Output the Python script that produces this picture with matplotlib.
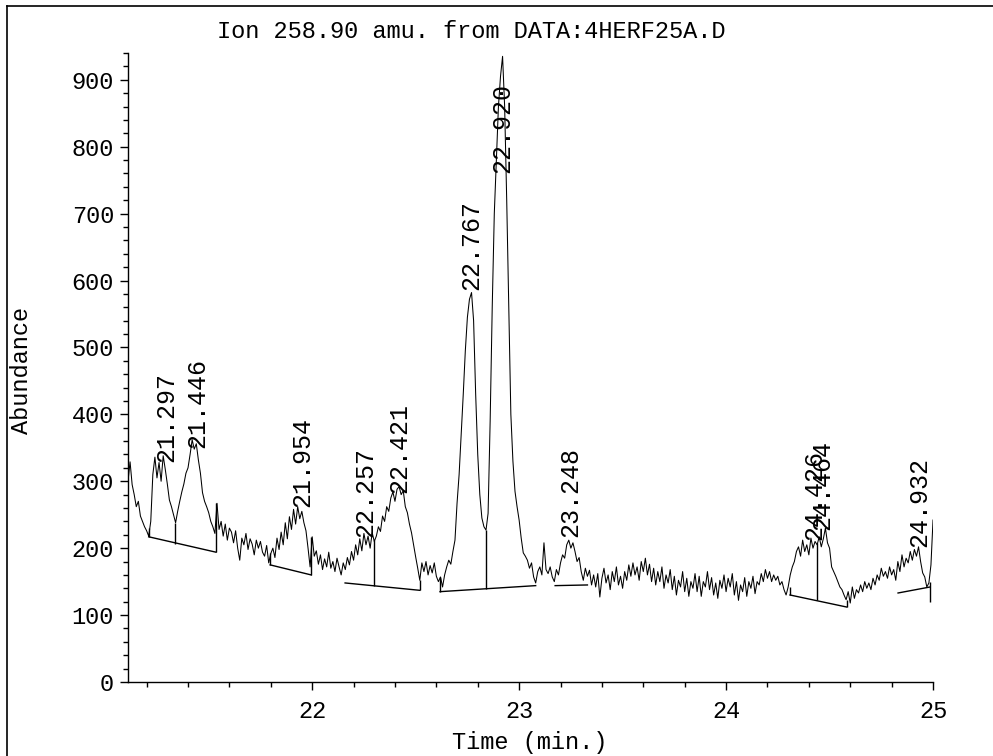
# ::::::::::::::::::::::::::::::::::::::::::::::::::::::::::::::::::::::::
# :::        Extracted ion chromatogram  -  Ion 258.90 amu               :::
# ::::::::::::::::::::::::::::::::::::::::::::::::::::::::::::::::::::::::

import numpy as np
import matplotlib.pyplot as plt
from matplotlib.lines import Line2D
from matplotlib.ticker import MultipleLocator

scan_start = 21.11          # first scan time (min)
scan_step = 0.01            # time between points (min)

abundance = [
    300, 329, 295, 280, 262, 270, 248, 240, 232, 226,   # 21.11 - 21.20
    218, 240, 310, 336, 305, 328, 300, 338, 318, 296,
    272, 262, 250, 238, 255, 270, 284, 296, 312, 320,
    340, 362, 348, 356, 332, 312, 283, 270, 262, 253,
    240, 232, 222, 267, 228, 240, 218, 236, 212, 230,
    224, 208, 226, 200, 182, 215, 205, 222, 198, 214,
    206, 190, 212, 200, 210, 194, 188, 204, 178, 192,
    200, 186, 215, 198, 224, 205, 238, 214, 247, 228,
    258, 236, 262, 244, 255, 238, 226, 200, 172, 217,   # 21.91 - 22.00
    188, 196, 176, 190, 168, 184, 172, 194, 170, 180,
    165, 185, 172, 160, 178, 168, 186, 175, 195, 182,
    205, 190, 214, 196, 222, 205, 218, 200, 223, 210,
    218, 232, 225, 248, 240, 262, 255, 275, 284, 270,
    288, 292, 280, 286, 262, 253, 236, 223, 205, 187,
    170, 152, 178, 165, 180, 160, 174, 163, 178, 158,
    150, 157, 142, 160, 172, 182, 176, 195, 212, 267,
    310, 370, 430, 495, 545, 572, 582, 540, 430, 340,
    280, 245, 232, 227, 252, 390, 560, 700, 780, 860,
    905, 935, 860, 720, 560, 400, 330, 285, 262, 242,   # 22.91 - 23.00
    215, 193, 188, 182, 170, 178, 157, 148, 165, 172,
    160, 208, 168, 162, 172, 157, 150, 168, 160, 178,
    190, 185, 205, 212, 200, 208, 195, 180, 186, 165,
    152, 170, 158, 167, 145, 160, 142, 162, 127, 155,
    170, 148, 160, 138, 165, 150, 172, 145, 158, 140,
    165, 152, 175, 158, 178, 160, 172, 152, 180, 165,
    185, 160, 176, 150, 170, 145, 165, 150, 172, 140,
    160, 148, 168, 138, 158, 130, 152, 142, 165, 135,
    155, 128, 150, 140, 162, 135, 158, 128, 150, 142,
    165, 138, 156, 130, 148, 125, 152, 140, 160, 135,   # 23.91 - 24.00
    155, 142, 162, 130, 150, 122, 145, 135, 156, 128,
    150, 140, 158, 132, 150, 145, 162, 150, 168, 155,
    165, 150, 160, 152, 158, 145, 150, 138, 130, 142,
    160, 172, 180, 195, 202, 188, 212, 195, 205, 190,
    215, 200, 210, 205, 217, 202, 214, 230, 208, 200,
    172, 165, 158, 150, 142, 138, 130, 123, 135, 118,
    142, 125, 138, 133, 145, 135, 150, 140, 148, 138,
    155, 145, 160, 152, 170, 158, 165, 155, 172, 160,
    168, 152, 180, 165, 190, 172, 185, 178, 195, 182,
    198, 188, 202, 180, 163, 157, 142, 148, 175, 242,   # 24.91 - 25.00
]

# ::: Integrated peaks (retention time label and where the label starts) :::
peak_labels = ["21.297", "21.446", "21.954", "22.257", "22.421", "22.767",
               "22.920", "23.248", "24.426", "24.464", "24.932"]
peak_label_y = [329, 350, 262, 217, 283, 586, 760, 217, 212, 227, 202]

# ::: Integration baselines (start time, start abundance, end time, end abundance) :::
base_t0 = [21.21, 21.797, 22.159, 22.618, 23.174, 24.309, 24.831]
base_y0 = [217, 175, 148, 135, 144, 130, 133]
base_t1 = [21.535, 21.995, 22.52, 23.08, 23.33, 24.583, 24.986]
base_y1 = [194, 160, 137, 144, 145, 112, 142]

# ::: Drop lines (time, top, bottom) :::
drop_t = [21.21, 21.335, 21.535, 21.797, 21.995, 22.30, 22.52, 22.618, 22.84,
          24.309, 24.438, 24.583, 24.986]
drop_top = [230, 238, 267, 193, 217, 212, 152, 157, 227, 142, 208, 123, 150]
drop_bot = [217, 206, 194, 175, 160, 143, 137, 135, 139, 130, 123, 112, 120]

time = scan_start + scan_step * np.arange(len(abundance))

# :::::: Plot ::::::
plt.rcParams['font.family'] = ['Liberation Mono', 'DejaVu Sans Mono']
fs = 17

fig = plt.figure(figsize=(9.93, 7.56), dpi=100)
ax = fig.add_axes([0.1289, 0.0979, 0.8107, 0.832])

ax.plot(time, abundance, color='black', lw=0.75)

for t0, y0, t1, y1 in zip(base_t0, base_y0, base_t1, base_y1):
    ax.plot([t0, t1], [y0, y1], color='black', lw=1.0)
ax.vlines(drop_t, drop_bot, drop_top, color='black', lw=1.0)

for lab, y in zip(peak_labels, peak_label_y):
    ax.text(float(lab), y, lab, rotation=90, ha='center', va='bottom',
            fontsize=18, color='black')

# ::: Axes look like the old plotter output :::
ax.set_xlim(21.11, 25.0)
ax.set_ylim(0, 940)
ax.spines['top'].set_visible(False)
ax.spines['right'].set_visible(False)
ax.spines['left'].set_linewidth(1.0)
ax.spines['bottom'].set_linewidth(1.0)

ax.set_xticks([22, 23, 24, 25])
ax.xaxis.set_minor_locator(MultipleLocator(0.2))
ax.set_yticks(np.arange(0, 1000, 100))
ax.yaxis.set_minor_locator(MultipleLocator(20))
ax.tick_params(axis='both', which='major', direction='out', length=6, width=1.0,
               labelsize=fs, color='black')
ax.tick_params(axis='both', which='minor', direction='out', length=3.5, width=1.0)
ax.tick_params(axis='x', which='major', pad=7)
ax.tick_params(axis='y', which='major', pad=4)

fig.text(471 / 993, 1 - 32 / 756, "Ion 258.90 amu. from DATA:4HERF25A.D",
         ha='center', va='center', fontsize=fs)
fig.text(530 / 993, 1 - 742 / 756, "Time (min.)", ha='center', va='center', fontsize=fs)
fig.text(22 / 993, 1 - 370 / 756, "Abundance", rotation=90, ha='center', va='center',
         fontsize=fs)

# ::: page frame (left and top edge of the scanned sheet) :::
fig.add_artist(Line2D([7 / 993, 7 / 993], [0, 1 - 6 / 756], color='black', lw=1.2))
fig.add_artist(Line2D([7 / 993, 1], [1 - 6 / 756, 1 - 6 / 756], color='black', lw=1.2))

fig.savefig('out.png', dpi=100)
